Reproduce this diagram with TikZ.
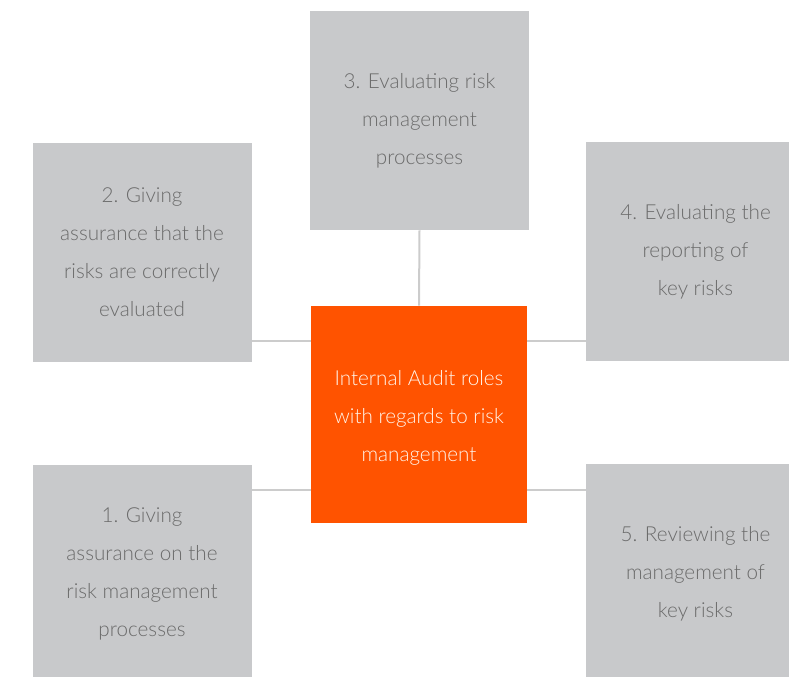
\documentclass[tikz,border=0pt]{standalone}
\usepackage{fontspec}
\setmainfont{Lato}[UprightFont={* Light}]
\definecolor{boxgray}{HTML}{C8C9CB}
\definecolor{txtgray}{HTML}{6B6B6B}
\definecolor{linegray}{HTML}{CCCCCC}
\definecolor{auditorange}{HTML}{FF5300}
\begin{document}
\begin{tikzpicture}[x=0.75pt,y=-0.75pt,
  rolebox/.style={fill=boxgray, text=txtgray, minimum width=164.25pt, minimum height=164.25pt, inner sep=0pt, align=center, font=\fontsize{15.5}{28.5}\selectfont},
  centerbox/.style={fill=auditorange, minimum width=162pt, minimum height=162.75pt, inner sep=0pt},
  centertext/.style={text=white!92!orange, align=center, font=\fontsize{15.5}{28.5}\selectfont, inner sep=0pt, yshift=-2.5pt},
  link/.style={draw=linegray, line width=1.5pt}]
\useasboundingbox (0,0) rectangle (789,677);
\clip (0,0) rectangle (789,677);
\node[rolebox] (b3) at (419.5,120.5) {3. Evaluating risk\\management\\processes};
\node[rolebox] (b2) at (142,252.5) {2. Giving\\assurance that the\\risks are correctly\\evaluated};
\node[rolebox] (b4) at (695.5,251.5) {4. Evaluating the\\reporting of\\key risks};
\node[rolebox] (b1) at (142,574) {1. Giving\\assurance on the\\risk management\\processes};
\node[rolebox] (b5) at (695.5,573.5) {5. Reviewing the\\management of\\key risks};
\node[centerbox, label={[centertext]center:Internal Audit roles\\with regards to risk\\management}] (c) at (419,414.5) {};
\draw[link] (b3.south) -- (c.north);
\draw[link] (b2.east |- 0,341) -- (c.west |- 0,341);
\draw[link] (c.east |- 0,341) -- (b4.west |- 0,341);
\draw[link] (b1.east |- 0,490) -- (c.west |- 0,490);
\draw[link] (c.east |- 0,490) -- (b5.west |- 0,490);
\end{tikzpicture}
\end{document}
